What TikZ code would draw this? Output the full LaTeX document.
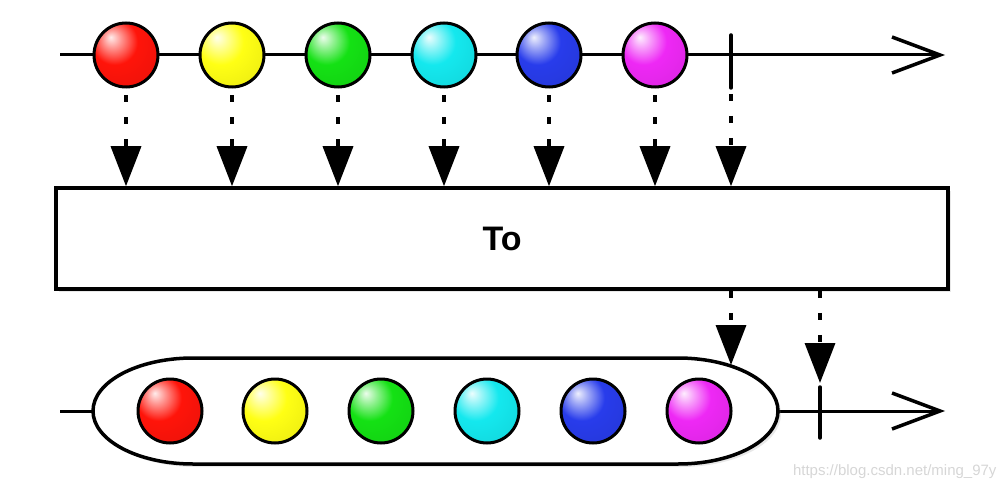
\documentclass[tikz,border=0pt]{standalone}
\usepackage{fontspec}
\setmainfont{Liberation Sans}
\usetikzlibrary{arrows.meta,shadows}
\definecolor{bred}{RGB}{255,20,10}
\definecolor{byellow}{RGB}{255,255,20}
\definecolor{bgreen}{RGB}{20,225,20}
\definecolor{bcyan}{RGB}{20,232,238}
\definecolor{bblue}{RGB}{40,60,235}
\definecolor{bmagenta}{RGB}{238,40,245}
\makeatletter
\pgfdeclareradialshading[tikz@ball]{softball}{\pgfqpoint{-12bp}{14bp}}{%
  color(0bp)=(tikz@ball!8!white);
  color(7bp)=(tikz@ball!45!white);
  color(18bp)=(tikz@ball);
  color(40bp)=(tikz@ball!92!black);
  color(58bp)=(tikz@ball!68!black);
  color(70bp)=(tikz@ball!60!black)}
\makeatother
\begin{document}
\begin{tikzpicture}[x=1pt,y=1pt,
  ball/.style={circle, draw=black, line width=3pt, minimum size=64pt, inner sep=0pt, ball color=#1, shading=softball},
  axis/.style={line width=3pt, -{Straight Barb[length=48pt,width=36pt,line width=3.5pt]}},
  tickmark/.style={line width=3.5pt, line cap=round},
  flow/.style={line width=3.5pt, dash pattern=on 7pt off 15pt, -{Triangle[length=40pt,width=30pt]}},
  soft/.style={drop shadow={opacity=0.18, shadow xshift=3pt, shadow yshift=-3pt}}]
\useasboundingbox (0,0) rectangle (1008,496);

% top time line
\coordinate (ts) at (60,441);
\coordinate (te) at (945,441);
\draw[axis] (ts) -- (te);
\coordinate (tt1) at (731,461);
\coordinate (tt2) at (731,408);
\draw[tickmark] (tt1) -- (tt2);
\node[ball=bred] (t1) at (126,441) {};
\node[ball=byellow] (t2) at (232,441) {};
\node[ball=bgreen] (t3) at (338,441) {};
\node[ball=bcyan] (t4) at (444,441) {};
\node[ball=bblue] (t5) at (549,441) {};
\node[ball=bmagenta] (t6) at (655,441) {};

% operator box
\node[draw, line width=3.5pt, fill=white, soft, minimum width=892pt, minimum height=101pt,
      font=\bfseries\fontsize{34}{40}\selectfont] (box) at (502,257.5) {To};

% arrows into the box
\foreach \i in {1,...,6} {
  \draw[flow, dash phase=16pt] ([yshift=-1pt]t\i.south) -- (t\i.south |- box.north);
}
\draw[flow, dash phase=16pt] (tt2) -- (tt2 |- box.north);

% bottom time line
\coordinate (bs) at (60,85);
\coordinate (be) at (945,85);
\draw[axis] (bs) -- (be);
\draw[line width=3.5pt, fill=white, soft] (193,138) -- (678,138)
  arc[start angle=90, end angle=-90, x radius=100, y radius=53] -- (193,32)
  arc[start angle=270, end angle=90, x radius=100, y radius=53] -- cycle;
\node[ball=bred] (b1) at (170,85) {};
\node[ball=byellow] (b2) at (275,85) {};
\node[ball=bgreen] (b3) at (381,85) {};
\node[ball=bcyan] (b4) at (487,85) {};
\node[ball=bblue] (b5) at (593,85) {};
\node[ball=bmagenta] (b6) at (699,85) {};
\coordinate (bt1) at (820,109);
\coordinate (bt2) at (820,58);
\draw[tickmark] (bt1) -- (bt2);
\coordinate (c1) at (731,131);
\coordinate (c2) at (820,113);

% arrows out of the box
\draw[flow] (box.south -| c1) -- (c1);
\draw[flow] (box.south -| c2) -- (c2);

% watermark
\node[text=black!16, font=\fontsize{15}{18}\selectfont, anchor=east] (wm) at (1000,24) {https://blog.csdn.net/ming\_97y};
\end{tikzpicture}
\end{document}
